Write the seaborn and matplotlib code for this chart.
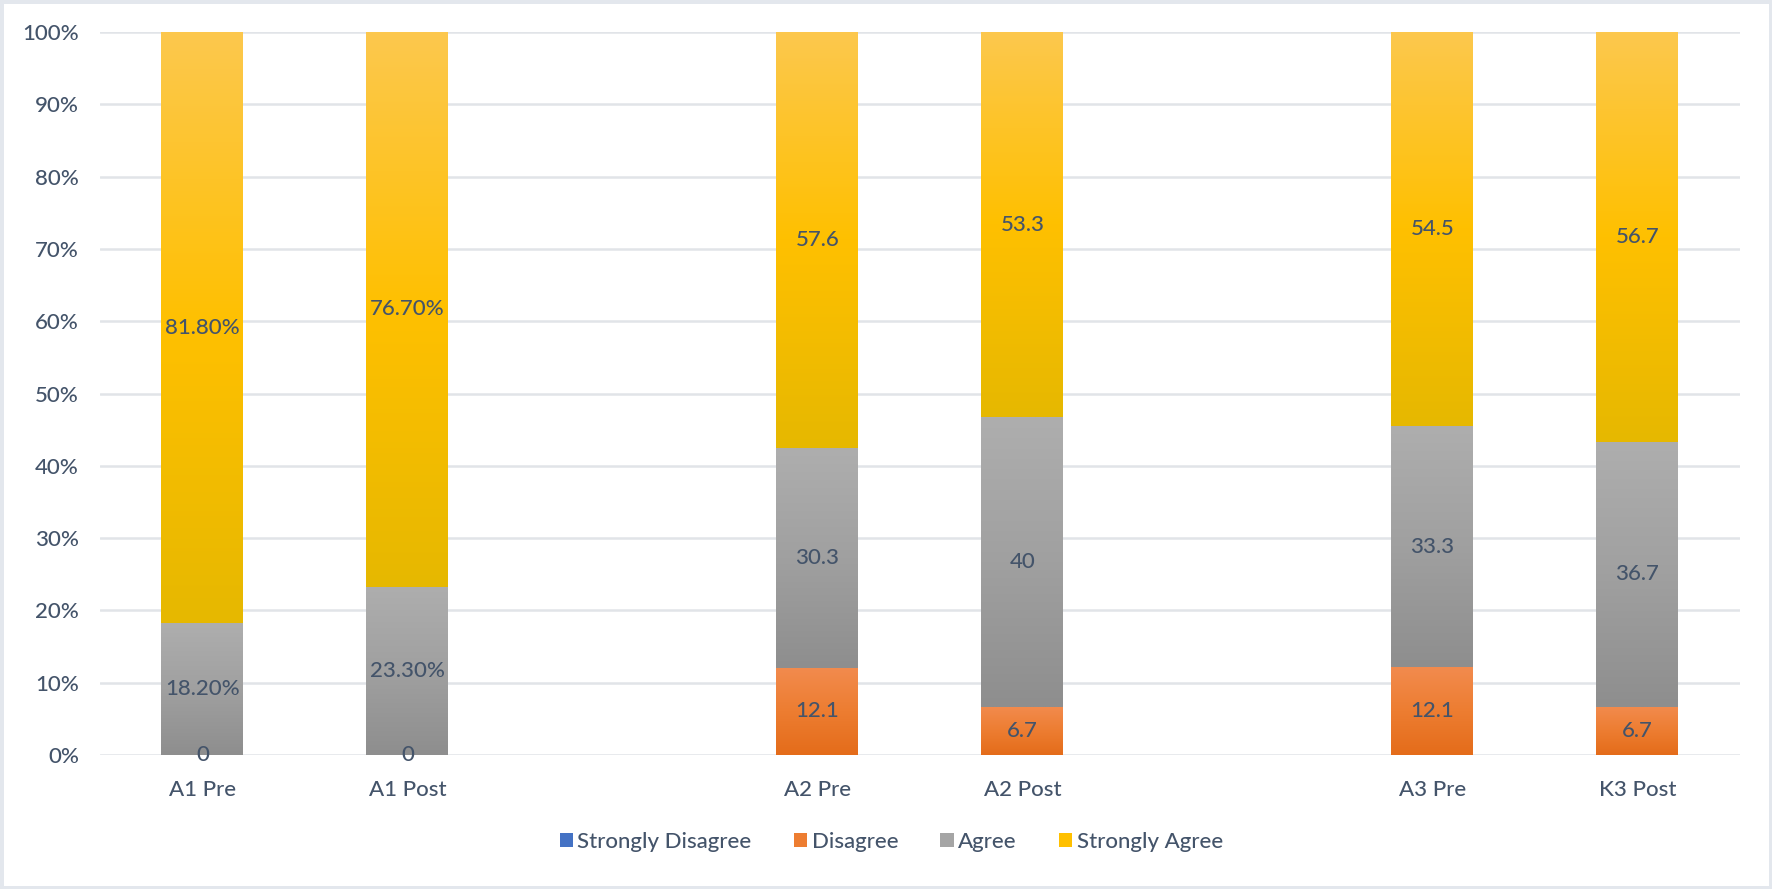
import numpy as np
import pandas as pd
import matplotlib
matplotlib.use('Agg')
import matplotlib.pyplot as plt
from matplotlib.colors import LinearSegmentedColormap
from matplotlib.patches import Patch, Rectangle
import seaborn as sns

# Data (percent of respondents)
groups = ['A1 Pre', 'A1 Post', 'A2 Pre', 'A2 Post', 'A3 Pre', 'K3 Post']
slot_order = ['A1 Pre', 'A1 Post', 'gap1', 'A2 Pre', 'A2 Post', 'gap2', 'A3 Pre', 'K3 Post']
series = ['Strongly Disagree', 'Disagree', 'Agree', 'Strongly Agree']
strongly_disagree = [0, 0, 0, 0, 0, 0]
disagree = [0, 0, 12.1, 6.7, 12.1, 6.7]
agree = [18.2, 23.3, 30.3, 40, 33.3, 36.7]
strongly_agree = [81.8, 76.7, 57.6, 53.3, 54.5, 56.7]

# labels as shown on the chart
sd_labels = ['', '', '', '', '', '']
d_labels = ['0', '0', '12.1', '6.7', '12.1', '6.7']
a_labels = ['18.20%', '23.30%', '30.3', '40', '33.3', '36.7']
sa_labels = ['81.80%', '76.70%', '57.6', '53.3', '54.5', '56.7']

legend_colors = ['#4472C4', '#ED7D31', '#A5A5A5', '#FFC000']
gradients = [
    ['#2F5597', '#4472C4', '#6A8FD3'],
    ['#E46C1A', '#ED7D31', '#F28B4E'],
    ['#8E8E8E', '#A0A0A0', '#AEAEAE'],
    ['#E6B800', '#FFC000', '#FCC84E'],
]
text_color = '#44546A'
fs = 16

df = pd.DataFrame({'Group': groups, series[0]: strongly_disagree, series[1]: disagree,
                   series[2]: agree, series[3]: strongly_agree})
# normalise to 100% stacked
vals = df[series].to_numpy(dtype=float)
vals = vals / vals.sum(axis=1, keepdims=True) * 100
tops = np.cumsum(vals, axis=1)
bottoms = tops - vals

sns.set_theme(style='white')
plt.rcParams['font.family'] = ['Lato', 'DejaVu Sans']
plt.rcParams['font.weight'] = 'medium'

fig = plt.figure(figsize=(17.72, 8.89), dpi=100)
ax = fig.add_axes([0.0564, 0.1507, 0.9255, 0.8133])

labels_all = [sd_labels, d_labels, a_labels, sa_labels]
for k in range(len(series) - 1, -1, -1):
    n_before = len(ax.patches)
    sns.barplot(x=df['Group'], y=tops[:, k], order=slot_order, width=0.4,
                color=legend_colors[k], errorbar=None, ax=ax)
    new_patches = ax.patches[n_before:]
    cmap = LinearSegmentedColormap.from_list('g%d' % k, gradients[k])
    for p in new_patches:
        xc = p.get_x() + p.get_width() / 2
        slot = slot_order[int(round(xc))]
        if slot not in groups:
            continue
        i = groups.index(slot)
        p.set_visible(False)
        b, t = bottoms[i, k], tops[i, k]
        if t - b > 0:
            grad = np.linspace(1, 0, 256).reshape(-1, 1)
            ax.imshow(grad, extent=[p.get_x(), p.get_x() + p.get_width(), b, t],
                      cmap=cmap, aspect='auto', origin='upper', zorder=2 + k)
        lab = labels_all[k][i]
        if lab:
            ax.text(xc, (b + t) / 2, lab, ha='center', va='center',
                    fontsize=fs, color=text_color, zorder=10)

ax.set_xlim(-0.5, len(slot_order) - 0.5)
ax.set_ylim(0, 100)
ax.set_yticks(np.arange(0, 101, 10))
ax.set_yticklabels(['%d%%' % v for v in range(0, 101, 10)])
ax.set_xticks(range(len(slot_order)))
ax.set_xticklabels([s if s in groups else '' for s in slot_order])
ax.set_xlabel('')
ax.set_ylabel('')
ax.tick_params(axis='y', length=0, pad=15, labelsize=fs, labelcolor=text_color)
ax.tick_params(axis='x', length=0, pad=18, labelsize=fs, labelcolor=text_color)
ax.yaxis.grid(True, color='#E1E4E8', linewidth=1.8, zorder=0)
ax.set_axisbelow(True)
sns.despine(ax=ax, left=True, bottom=True)

handles = [Patch(facecolor=c, edgecolor='none') for c in legend_colors]
fig.legend(handles, series, loc='center', bbox_to_anchor=(0.503, 0.053), ncol=4,
           frameon=False, fontsize=fs, handlelength=0.6, handleheight=0.6,
           handletextpad=0.2, columnspacing=1.9, labelcolor=text_color)

fig.patches.append(Rectangle((0, 0), 1, 1, transform=fig.transFigure, fill=False,
                             edgecolor='#E3E7ED', linewidth=5))

fig.savefig('out.png', dpi=100, facecolor='white')
